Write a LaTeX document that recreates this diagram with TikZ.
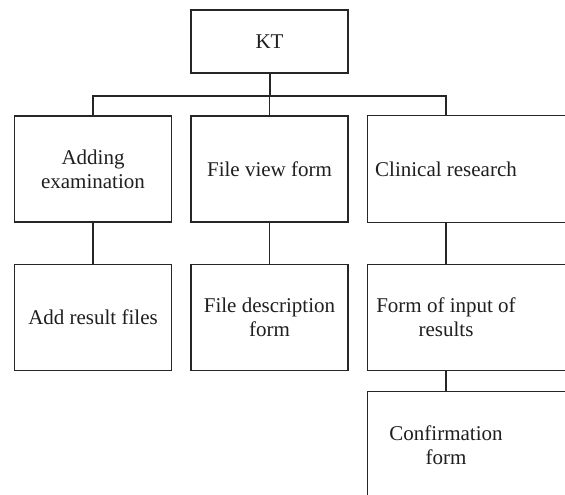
\documentclass[tikz,border=0pt]{standalone}
\usepackage{fontspec}
\setmainfont{Liberation Serif}
\begin{document}
\begin{tikzpicture}[x=1pt,y=1pt,
  every node/.style={font=\fontsize{21}{24}\selectfont, text=black!88, align=center, inner sep=0pt},
  box/.style={draw=black!85, line width=1.25pt, minimum width=157pt, minimum height=106pt},
  openbox/.style={minimum width=157pt, minimum height=106pt},
  link/.style={draw=black!85, line width=1.25pt}]
\useasboundingbox (0,0) rectangle (565,-495);
\clip (0,0) rectangle (565,-495);
\fill[white] (0,0) rectangle (565,-495);
% top
\node[box, minimum height=63pt] (kt) at (269.5,-41.5) {KT};
% row 1
\node[box] (a1) at (93,-169) {Adding\\examination};
\node[box] (b1) at (269.5,-169) {File view form};
\node[openbox] (c1) at (446,-169) {Clinical research};
\draw[link] (c1.south west) rectangle ([xshift=80pt]c1.north east);
% row 2
\node[box] (a2) at (93,-317.5) {Add result files};
\node[box] (b2) at (269.5,-317.5) {File description\\form};
\node[openbox] (c2) at (446,-317.5) {Form of input of\\results};
\draw[link] (c2.south west) rectangle ([xshift=80pt]c2.north east);
% row 3
\node[openbox] (c3) at (446,-445) {Confirmation\\form};
\draw[link] (c3.south west) rectangle ([xshift=80pt]c3.north east);
% connectors
\coordinate (bus) at (269.5,-96);
\draw[link, line width=2pt] (kt.south) -- (bus);
\draw[link] (a1.north) |- (bus) -| (c1.north);
\draw[link] (bus) -- (b1.north);
\draw[link] (a1.south) -- (a2.north);
\draw[link] (b1.south) -- (b2.north);
\draw[link] (c1.south) -- (c2.north);
\draw[link] (c2.south) -- (c3.north);
\end{tikzpicture}
\end{document}
